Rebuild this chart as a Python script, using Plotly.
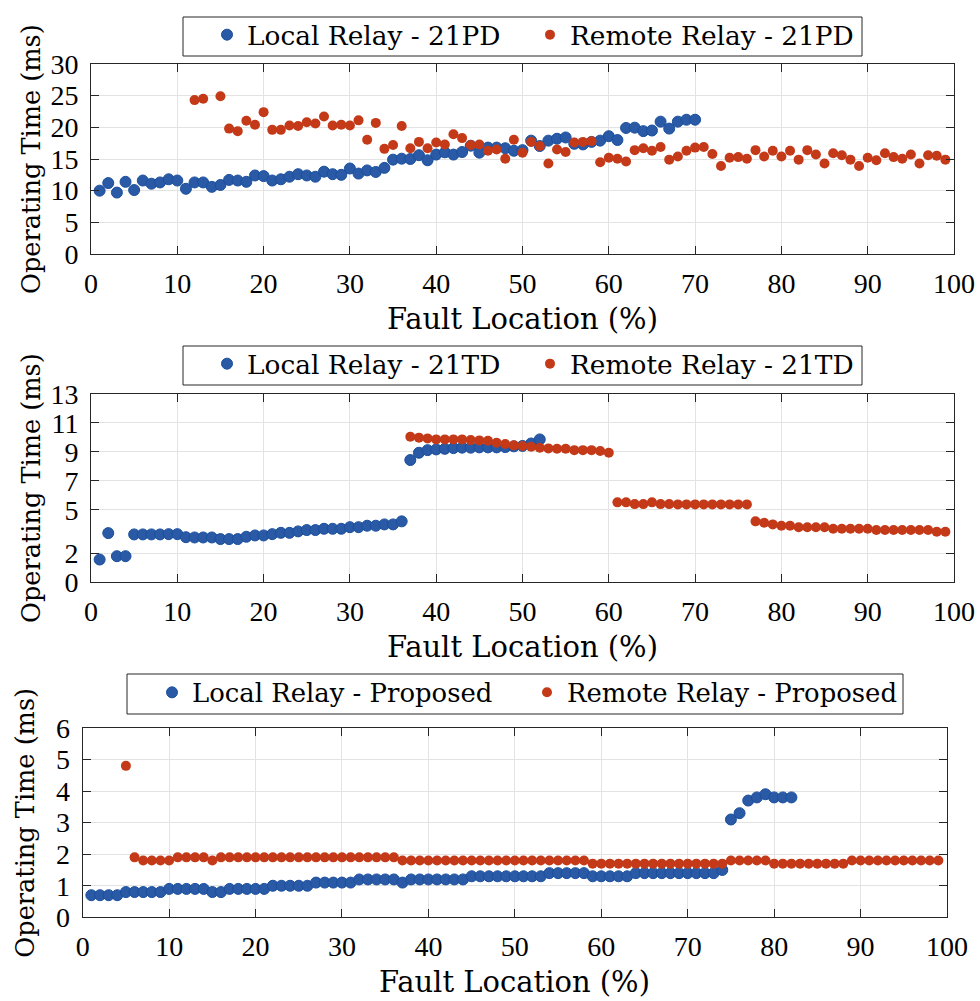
import plotly.graph_objects as go

# ---------------- data ----------------
# Panel 1: 21PD
local_pd_x = list(range(1, 71))
local_pd = [10.0, 11.2, 9.7, 11.4, 10.1, 11.6, 11.1, 11.3, 11.8, 11.6,
            10.3, 11.3, 11.3, 10.6, 10.9, 11.7, 11.6, 11.4, 12.4, 12.3,
            11.6, 11.8, 12.2, 12.6, 12.4, 12.2, 13.0, 12.6, 12.5, 13.5,
            12.7, 13.2, 12.95, 13.6, 14.9, 15.05, 15.0, 15.6, 14.8, 15.7,
            16.05, 15.7, 16.1, 17.1, 16.0, 16.8, 16.8, 16.7, 16.3, 16.4,
            17.9, 17.05, 17.9, 18.2, 18.4, 17.4, 17.3, 17.7, 17.9, 18.6,
            18.0, 19.9, 19.95, 19.4, 19.5, 20.9, 19.8, 20.9, 21.2, 21.2]
remote_pd_x = [12, 13] + list(range(15, 100))
remote_pd = [24.3, 24.5, 24.9, 19.8, 19.4, 21.05, 20.4, 22.4, 19.6, 19.6,
             20.3, 20.2, 20.8, 20.6, 21.7, 20.3, 20.4, 20.3, 21.1, 18.05,
             20.7, 16.6, 17.2, 20.2, 16.7, 17.7, 16.7, 17.6, 17.3, 18.9,
             18.3, 17.2, 17.3, 16.3, 16.5, 15.05, 18.05, 16.0, 17.7, 17.05,
             14.3, 16.5, 16.1, 17.6, 17.7, 17.8, 14.5, 15.2, 15.05, 14.6,
             16.4, 16.7, 16.3, 16.9, 14.9, 15.4, 16.3, 16.8, 16.9, 15.8,
             13.9, 15.2, 15.3, 15.05, 16.4, 15.4, 16.3, 15.4, 16.3, 14.9,
             16.4, 15.7, 14.3, 15.9, 15.6, 14.9, 13.9, 15.2, 14.8, 15.9,
             15.3, 15.05, 15.7, 14.3, 15.6, 15.5, 14.9]

# Panel 2: 21TD
local_td_x = list(range(1, 53))
local_td = [1.57, 3.39, 1.80, 1.80, 3.30, 3.30, 3.30, 3.30, 3.32, 3.32,
            3.11, 3.09, 3.09, 3.09, 2.98, 2.98, 2.98, 3.14, 3.23, 3.23,
            3.32, 3.41, 3.41, 3.51, 3.60, 3.60, 3.69, 3.69, 3.69, 3.80,
            3.80, 3.90, 3.90, 3.99, 3.99, 4.20, 8.43, 8.93, 9.11, 9.16,
            9.20, 9.25, 9.28, 9.28, 9.30, 9.30, 9.30, 9.32, 9.37, 9.40,
            9.57, 9.85]
remote_td_x = list(range(37, 100))
remote_td = [10.03, 9.97, 9.92, 9.85, 9.85, 9.85, 9.85, 9.80, 9.78, 9.76,
             9.62, 9.53, 9.44, 9.39, 9.34, 9.28, 9.23, 9.20, 9.20, 9.11,
             9.11, 9.11, 9.05, 8.93, 5.51, 5.51, 5.39, 5.39, 5.51, 5.39,
             5.39, 5.37, 5.37, 5.37, 5.37, 5.37, 5.37, 5.37, 5.37, 5.37,
             4.20, 4.10, 3.99, 3.90, 3.90, 3.80, 3.80, 3.80, 3.80, 3.69,
             3.69, 3.69, 3.69, 3.69, 3.60, 3.60, 3.60, 3.60, 3.60, 3.60,
             3.60, 3.49, 3.49]

# Panel 3: Proposed
local_pr_x = list(range(1, 83))
local_pr = [0.7, 0.7, 0.7, 0.7, 0.8, 0.8, 0.8, 0.8, 0.8, 0.9,
            0.9, 0.9, 0.9, 0.9, 0.8, 0.8, 0.9, 0.9, 0.9, 0.9,
            0.9, 1.0, 1.0, 1.0, 1.0, 1.0, 1.1, 1.1, 1.1, 1.1,
            1.1, 1.2, 1.2, 1.2, 1.2, 1.2, 1.1, 1.2, 1.2, 1.2,
            1.2, 1.2, 1.2, 1.2, 1.3, 1.3, 1.3, 1.3, 1.3, 1.3,
            1.3, 1.3, 1.3, 1.4, 1.4, 1.4, 1.4, 1.4, 1.3, 1.3,
            1.3, 1.3, 1.3, 1.4, 1.4, 1.4, 1.4, 1.4, 1.4, 1.4,
            1.4, 1.4, 1.4, 1.5, 3.1, 3.3, 3.7, 3.8, 3.9, 3.8,
            3.8, 3.8]
remote_pr_x = list(range(5, 100))
remote_pr = [4.8, 1.9, 1.8, 1.8, 1.8, 1.8, 1.9, 1.9, 1.9, 1.9,
             1.8, 1.9, 1.9, 1.9, 1.9, 1.9, 1.9, 1.9, 1.9, 1.9,
             1.9, 1.9, 1.9, 1.9, 1.9, 1.9, 1.9, 1.9, 1.9, 1.9,
             1.9, 1.9, 1.8, 1.8, 1.8, 1.8, 1.8, 1.8, 1.8, 1.8,
             1.8, 1.8, 1.8, 1.8, 1.8, 1.8, 1.8, 1.8, 1.8, 1.8,
             1.8, 1.8, 1.8, 1.8, 1.7, 1.7, 1.7, 1.7, 1.7, 1.7,
             1.7, 1.7, 1.7, 1.7, 1.7, 1.7, 1.7, 1.7, 1.7, 1.7,
             1.8, 1.8, 1.8, 1.8, 1.8, 1.7, 1.7, 1.7, 1.7, 1.7,
             1.7, 1.7, 1.7, 1.7, 1.8, 1.8, 1.8, 1.8, 1.8, 1.8,
             1.8, 1.8, 1.8, 1.8, 1.8]

x_ticks = [0, 10, 20, 30, 40, 50, 60, 70, 80, 90, 100]
y1_ticks = [0, 5, 10, 15, 20, 25, 30]
y2_ticks = [0, 2, 5, 7, 9, 11, 13]
y3_ticks = [0, 1, 2, 3, 4, 5, 6]

legend_names = [("Local Relay - 21PD", "Remote Relay - 21PD"),
                ("Local Relay - 21TD", "Remote Relay - 21TD"),
                ("Local Relay - Proposed", "Remote Relay - Proposed")]

# ---------------- style ----------------
W, H = 980, 1001
BLUE = "#2a5aa6"
BLUE_EDGE = "#1a4f9e"
ORANGE = "#c43a19"
AXC = "#262626"
GRID = "#e3e3e3"
TEXT_FONT = "DejaVu Serif"
NUM_FONT = "Liberation Serif"


def px(x):
    return x / W


def py(y):
    return 1 - y / H


# plot areas in pixels: (left, right, top, bottom)
areas = [(91, 954, 64, 254), (91, 954, 393.7, 582.3), (82.7, 947, 728, 917.3)]
yranges = [[0, 30], [0, 13], [0, 6]]
yticks = [y1_ticks, y2_ticks, y3_ticks]
data = [(local_pd_x, local_pd, remote_pd_x, remote_pd),
        (local_td_x, local_td, remote_td_x, remote_td),
        (local_pr_x, local_pr, remote_pr_x, remote_pr)]
legend_boxes = [(183, 862, 17, 56), (183, 862, 346, 385), (127, 903, 674, 714)]
legend_dots = [(227, 550), (227, 550), (172, 547)]
legend_fonts = [26.4, 26.4, 25.9]
xtitle_y = [319, 647, 982]
ytitle_x = [31, 31, 25]

fig = go.Figure()
layout = dict(width=W, height=H, paper_bgcolor="white", plot_bgcolor="white",
              margin=dict(l=0, r=0, t=0, b=0, autoexpand=False),
              showlegend=True, shapes=[], annotations=[])

for i in range(3):
    sfx = "" if i == 0 else str(i + 1)
    lx, ly, rx, ry = data[i]
    lg = "legend" + sfx
    fig.add_trace(go.Scatter(
        x=lx, y=ly, mode="markers", name=legend_names[i][0],
        xaxis="x" + sfx, yaxis="y" + sfx, legend=lg,
        marker=dict(size=11, color=BLUE, line=dict(color=BLUE_EDGE, width=1))))
    fig.add_trace(go.Scatter(
        x=rx, y=ry, mode="markers", name=legend_names[i][1],
        xaxis="x" + sfx, yaxis="y" + sfx, legend=lg,
        marker=dict(size=10, color=ORANGE, line=dict(color=ORANGE, width=0))))

    l, r, t, b = areas[i]
    common = dict(showgrid=True, gridcolor=GRID, gridwidth=1, showline=True,
                  linecolor=AXC, linewidth=1, mirror="ticks", ticks="inside",
                  ticklen=8, tickcolor=AXC, tickwidth=1, zeroline=False,
                  tickfont=dict(family=NUM_FONT, size=28, color="black"))
    layout["xaxis" + sfx] = dict(common, domain=[px(l), px(r)], range=[0, 100],
                                 tickvals=x_ticks, anchor="y" + sfx,
                                 ticklabelstandoff=4)
    layout["yaxis" + sfx] = dict(common, domain=[py(b), py(t)], range=yranges[i],
                                 tickvals=yticks[i], anchor="x" + sfx,
                                 ticklabelstandoff=6)

    # axis titles
    layout["annotations"].append(dict(
        text="Fault Location (%)", xref="paper", yref="paper",
        x=px((l + r) / 2), y=py(xtitle_y[i]), xanchor="center", yanchor="middle",
        showarrow=False, font=dict(family=TEXT_FONT, size=29, color="black")))
    layout["annotations"].append(dict(
        text="Operating Time (ms)", xref="paper", yref="paper", textangle=-90,
        x=px(ytitle_x[i]), y=py((t + b) / 2), xanchor="center", yanchor="middle",
        showarrow=False, font=dict(family=TEXT_FONT, size=25.6, color="black")))

    # legend box
    bl, br, bt, bb = legend_boxes[i]
    layout["shapes"].append(dict(type="rect", xref="paper", yref="paper",
                                 x0=px(bl), x1=px(br), y0=py(bb), y1=py(bt),
                                 line=dict(color=AXC, width=1), fillcolor="white",
                                 layer="above"))
    d1, d2 = legend_dots[i]
    layout[lg] = dict(orientation="h", x=px(d1 - 20), xanchor="left",
                      y=py((bt + bb) / 2 - 1.5), yanchor="middle",
                      bgcolor="rgba(0,0,0,0)", borderwidth=0,
                      entrywidth=(d2 - d1) - 45, entrywidthmode="pixels",
                      font=dict(family=TEXT_FONT, size=legend_fonts[i], color="black"))

fig.update_layout(**layout)
fig.write_html("out.html")
